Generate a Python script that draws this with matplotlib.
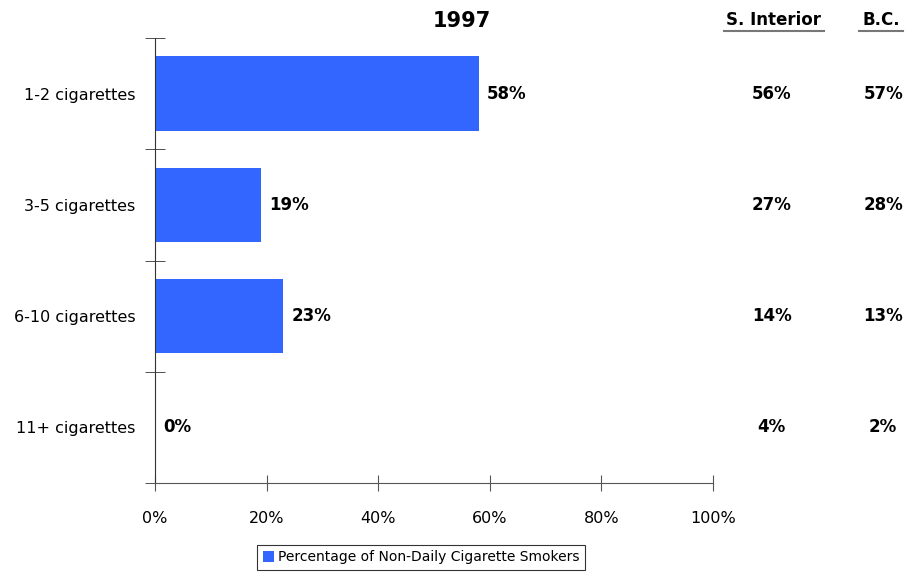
import matplotlib.pyplot as plt
from matplotlib.ticker import FixedLocator, PercentFormatter

categories = ['1-2 cigarettes', '3-5 cigarettes', '6-10 cigarettes', '11+ cigarettes']
values_1997 = [58, 19, 23, 0]
s_interior = [56, 27, 14, 4]
bc = [57, 28, 13, 2]

bar_color = '#3366ff'

fig = plt.figure(figsize=(9.06, 5.77), dpi=100)
ax = fig.add_axes([0.1711, 0.1629, 0.6159, 0.7712])

y_pos = list(range(len(categories)))
ax.barh(y_pos, values_1997, height=0.67, color=bar_color,
        label='Percentage of Non-Daily Cigarette Smokers')
ax.set_ylim(len(categories) - 0.5, -0.5)
ax.set_xlim(0, 100)

# value labels next to the bars
for y, v in zip(y_pos, values_1997):
    ax.text(v + 1.4, y, '%d%%' % v, va='center', ha='left',
            fontsize=12, fontweight='bold')

# comparison columns on the right (headers above the plot area)
ax.text(1.109, 1.04, 'S. Interior', transform=ax.transAxes, ha='center',
        va='center', fontsize=12, fontweight='bold')
ax.text(1.301, 1.04, 'B.C.', transform=ax.transAxes, ha='center',
        va='center', fontsize=12, fontweight='bold')
ax.plot([1.02, 1.199], [1.016, 1.016], transform=ax.transAxes,
        color='#777777', lw=1.5, clip_on=False)
ax.plot([1.262, 1.34], [1.016, 1.016], transform=ax.transAxes,
        color='#777777', lw=1.5, clip_on=False)
for y, a, b in zip(y_pos, s_interior, bc):
    ax.text(110.5, y, '%d%%' % a, ha='center', va='center',
            fontsize=12, fontweight='bold', clip_on=False)
    ax.text(130.5, y, '%d%%' % b, ha='center', va='center',
            fontsize=12, fontweight='bold', clip_on=False)

ax.set_title('1997', fontsize=15, fontweight='bold', pad=8, x=0.55)

# axes styling
for side in ['top', 'right']:
    ax.spines[side].set_visible(False)
ax.spines['left'].set_color('#333333')
ax.spines['bottom'].set_color('#555555')

ax.set_yticks(y_pos)
ax.set_yticklabels(categories, fontsize=11.5)
ax.tick_params(axis='y', which='major', length=0, pad=14)
ax.yaxis.set_minor_locator(FixedLocator([-0.5, 0.5, 1.5, 2.5, 3.5]))
ax.tick_params(axis='y', which='minor', direction='inout', length=14,
               color='#333333')

ax.set_xticks([0, 20, 40, 60, 80, 100])
ax.xaxis.set_major_formatter(PercentFormatter(decimals=0))
ax.tick_params(axis='x', direction='inout', length=12, labelsize=11.5,
               pad=14, color='#555555')

leg = fig.legend(loc='lower center', bbox_to_anchor=(0.465, 0.0), fontsize=10,
                 frameon=True, fancybox=False, edgecolor='black',
                 handlelength=0.8, handleheight=0.8, handletextpad=0.3,
                 borderpad=0.4)
leg.get_frame().set_linewidth(0.8)

fig.savefig('out.png', dpi=100)
